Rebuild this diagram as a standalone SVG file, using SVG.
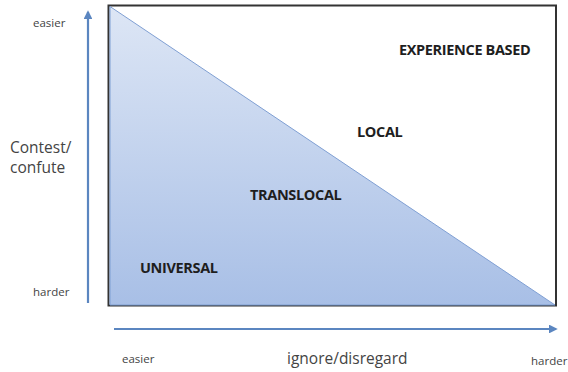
<svg xmlns="http://www.w3.org/2000/svg" width="568" height="372" viewBox="0 0 568 372">
  <style>
    .axis-label { font-family: "Open Sans", "Liberation Sans", sans-serif; fill: #444; }
    .small { font-size: 11.5px; }
    .title { font-size: 15.5px; }
    .zone { font-family: "Open Sans", "Liberation Sans", sans-serif; font-size: 14.5px; font-weight: bold; fill: #1e1e1e; letter-spacing: -0.35px; }
    .axis { stroke: #5b86c0; stroke-width: 2.2; fill: none; }
  </style>
  <defs>
    <linearGradient id="fillGrad" x1="0" y1="0" x2="0" y2="1">
      <stop offset="0" stop-color="#dde6f5"/>
      <stop offset="1" stop-color="#a8bfe6"/>
    </linearGradient>
    <marker id="head" viewBox="0 0 10 10" refX="8" refY="5" markerWidth="4" markerHeight="4" orient="auto">
      <path d="M0,0 L10,5 L0,10 z" fill="#5b86c0"/>
    </marker>
  </defs>

  <!-- frame with shaded triangle -->
  <g id="chart">
    <rect x="108.5" y="5.5" width="447.5" height="300" fill="#fff" stroke="#333" stroke-width="2"/>
    <polygon points="110,6.5 110,305 555,305" fill="url(#fillGrad)" stroke="#7f9fd3" stroke-width="1"/>
  </g>

  <!-- axes -->
  <g id="connectors">
    <line class="axis" x1="88" y1="303" x2="88" y2="12" marker-end="url(#head)"/>
    <line class="axis" x1="114" y1="329" x2="556" y2="329" marker-end="url(#head)"/>
  </g>

  <!-- zone labels -->
  <g id="universal"><text class="zone" x="140" y="273">UNIVERSAL</text></g>
  <g id="translocal"><text class="zone" x="250" y="200">TRANSLOCAL</text></g>
  <g id="local"><text class="zone" x="357" y="137">LOCAL</text></g>
  <g id="experience"><text class="zone" x="399" y="55">EXPERIENCE BASED</text></g>

  <!-- axis labels -->
  <g id="y-labels">
    <text class="axis-label small" x="33" y="27">easier</text>
    <text class="axis-label title" x="10" y="153">Contest/</text>
    <text class="axis-label title" x="10" y="173">confute</text>
    <text class="axis-label small" x="33" y="296">harder</text>
  </g>
  <g id="x-labels">
    <text class="axis-label small" x="122" y="363">easier</text>
    <text class="axis-label title" x="287" y="364">ignore/disregard</text>
    <text class="axis-label small" x="531" y="365">harder</text>
  </g>
</svg>
